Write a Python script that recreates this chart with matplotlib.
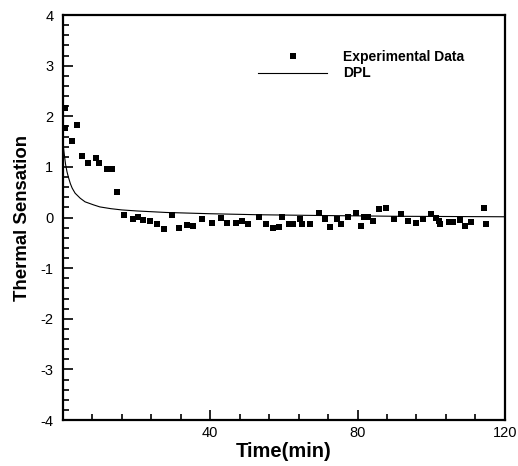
import numpy as np, matplotlib
matplotlib.use("Agg"); import matplotlib.pyplot as plt
from matplotlib.ticker import MultipleLocator
from matplotlib.lines import Line2D

plt.rcParams['font.family'] = ['Liberation Sans', 'DejaVu Sans']
plt.rcParams['axes.unicode_minus'] = False

# experimental points
t_exp = [0.6, 0.6, 2.4, 3.7, 5.1, 6.9, 9.0, 9.9, 11.9, 13.3, 14.8, 16.7, 18.9, 20.3, 21.7,
         23.7, 25.5, 27.5, 29.5, 31.5, 33.6, 35.2, 37.7, 40.5, 42.8, 44.6, 46.9, 48.7, 50.3,
         53.2, 55.0, 56.9, 58.7, 59.4, 61.4, 62.5, 64.3, 65.0, 67.2, 69.5, 71.1, 72.4, 74.4,
         75.6, 77.4, 79.6, 80.8, 81.7, 82.8, 84.2, 85.7, 87.8, 89.8, 91.7, 93.8, 95.9, 97.9,
         100.0, 101.2, 102.1, 102.4, 104.8, 105.9, 107.9, 109.1, 110.8, 114.3, 114.9]
s_exp = [2.17, 1.77, 1.51, 1.83, 1.21, 1.08, 1.18, 1.07, 0.95, 0.95, 0.51, 0.05, -0.03, 0.01, -0.04,
         -0.07, -0.12, -0.23, 0.05, -0.20, -0.14, -0.16, -0.02, -0.10, -0.01, -0.10, -0.10, -0.06, -0.12,
         0.02, -0.12, -0.20, -0.18, 0.02, -0.13, -0.12, -0.03, -0.13, -0.13, 0.08, -0.03, -0.18, -0.03,
         -0.12, 0.02, 0.08, -0.16, 0.02, 0.02, -0.07, 0.17, 0.18, -0.03, 0.06, -0.07, -0.10, -0.02,
         0.06, 0.00, -0.06, -0.12, -0.09, -0.09, -0.04, -0.16, -0.08, 0.19, -0.12]

# DPL model curve, sampled from the figure
t_dpl = [0.1, 0.4, 0.7, 1.1, 1.5, 2.0, 2.5, 3.3, 4.7, 6.0, 8.3, 10.0, 13.0, 16.0, 20.0, 28.0,
         40.0, 53.0, 70.0, 90.0, 120.0]
s_dpl = [1.40, 1.22, 1.05, 0.90, 0.79, 0.67, 0.58, 0.48, 0.38, 0.31, 0.25, 0.21, 0.175, 0.15,
         0.13, 0.10, 0.075, 0.055, 0.04, 0.025, 0.015]

fig = plt.figure(figsize=(5.18, 4.66), dpi=100)
ax = fig.add_axes([0.1216, 0.0987, 0.853, 0.869])
ax.plot(t_exp, s_exp, 's', color='k', ms=3.9, mew=0, zorder=3)
ax.plot(t_dpl, s_dpl, '-', color='k', lw=0.8, zorder=2)

ax.set_xlim(0, 120); ax.set_ylim(-4, 4)
ax.set_xticks([40, 80, 120])
ax.xaxis.set_minor_locator(MultipleLocator(8))
ax.yaxis.set_major_locator(MultipleLocator(1))
ax.yaxis.set_minor_locator(MultipleLocator(0.2))
ax.tick_params(which='both', direction='in', top=False, right=False, width=1.2, labelsize=10.5)
ax.tick_params(which='major', length=7.5)
ax.tick_params(which='minor', length=4)
ax.tick_params(axis='x', pad=4)
ax.tick_params(axis='y', pad=7)
for sp in ax.spines.values():
    sp.set_linewidth(1.6)

ax.set_xlabel("Time(min)", fontsize=14.5, fontweight='bold', labelpad=2)
ax.set_ylabel("Thermal Sensation", fontsize=13.4, fontweight='bold', labelpad=7)

handles = [Line2D([], [], ls='none', marker='s', color='k', ms=3.9, mew=0),
           Line2D([], [], color='k', lw=0.8)]
ax.legend(handles, ["Experimental Data", "DPL"], loc='upper left', bbox_to_anchor=(0.4255, 0.93),
          frameon=False, handlelength=5.0, handletextpad=1.1, labelspacing=0.15, borderpad=0,
          prop={'weight': 'bold', 'size': 10})

fig.savefig("out.png", dpi=100)
